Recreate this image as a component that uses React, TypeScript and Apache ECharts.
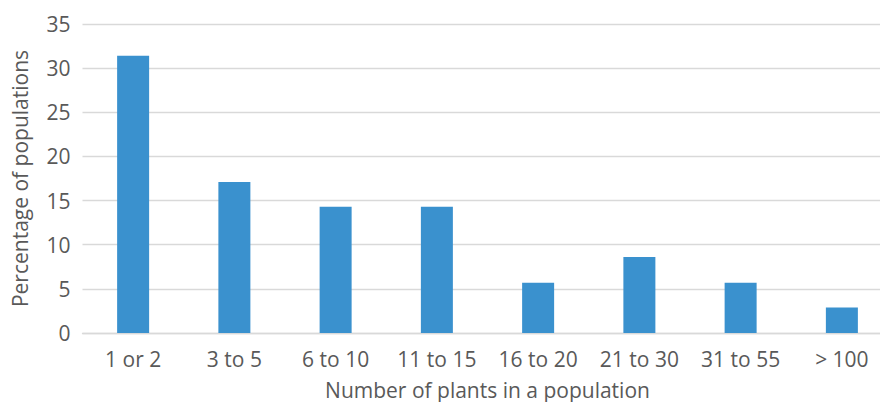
import React, { useEffect, useRef } from "react";
import * as echarts from "echarts";

const categories = ["1 or 2", "3 to 5", "6 to 10", "11 to 15", "16 to 20", "21 to 30", "31 to 55", "> 100"];
const percentages = [31.4, 17.1, 14.3, 14.3, 5.7, 8.6, 5.7, 2.9];
const yTicks = [0, 5, 10, 15, 20, 25, 30, 35];

const FONT = "'Open Sans', Lato, sans-serif";
const TEXT = "#595959";
const FS = 21;

export default function App() {
  const ref = useRef<HTMLDivElement>(null);
  useEffect(() => {
    if (!ref.current) return;
    const chart = echarts.init(ref.current, null, { renderer: "svg" });
    chart.setOption({
      animation: false,
      textStyle: { fontFamily: FONT },
      grid: {
        left: 82.5,
        top: 24,
        width: 810,
        height: 309,
        containLabel: false,
        outerBoundsMode: "none",
      },
      xAxis: {
        type: "category",
        data: categories,
        axisTick: { show: false },
        axisLine: { show: true, lineStyle: { color: "#d9d9d9", width: 1.3 } },
        axisLabel: { color: TEXT, fontSize: FS, margin: 15, fontFamily: FONT, interval: 0 },
        name: "Number of plants in a population",
        nameLocation: "middle",
        nameGap: 46,
        nameTextStyle: { color: TEXT, fontSize: FS, fontFamily: FONT },
      },
      yAxis: {
        type: "value",
        min: yTicks[0],
        max: yTicks[yTicks.length - 1],
        interval: 5,
        axisLine: { show: false },
        axisTick: { show: false },
        splitLine: { lineStyle: { color: "#d9d9d9", width: 1.3 } },
        axisLabel: { color: TEXT, fontSize: FS, margin: 12, fontFamily: FONT },
        name: "Percentage of populations",
        nameLocation: "middle",
        nameGap: 52,
        nameTextStyle: { color: TEXT, fontSize: FS, fontFamily: FONT },
      },
      series: [
        {
          type: "bar",
          data: percentages,
          barWidth: 32,
          itemStyle: { color: "#3a91ce" },
        },
      ],
    });
    return () => chart.dispose();
  }, []);
  return (
    <div
      ref={ref}
      style={{ position: "fixed", left: 0, top: 0, width: 880, height: 402, background: "#fff" }}
    />
  );
}
